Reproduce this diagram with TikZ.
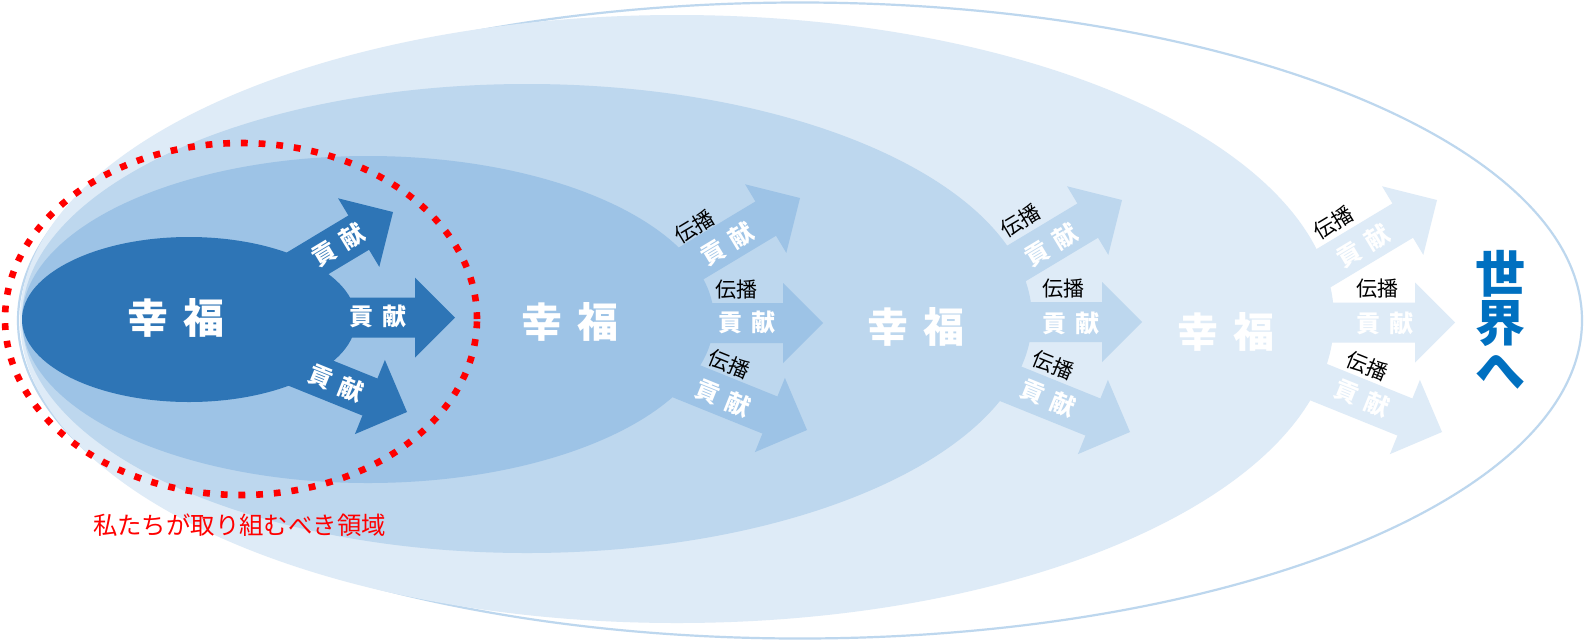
\documentclass[tikz,border=0pt]{standalone}
\usepackage{fontspec}
\newfontfamily\jp{Noto Sans CJK JP}
\definecolor{cE}{HTML}{2E75B6}
\definecolor{cD}{HTML}{9DC3E6}
\definecolor{cC}{HTML}{BDD7EE}
\definecolor{cB}{HTML}{DEEBF7}
\definecolor{cLine}{HTML}{BDD7EE}
\definecolor{cWorld}{HTML}{0070C0}
\definecolor{cRed}{HTML}{FF0000}
% block arrow: colour, tip x, tip y (pixels, downward), angle
\newcommand\blockarrow[4]{\fill[#1,shift={(#2,-#3)},rotate=#4] (0,0) -- (-40,40) -- (-40,20) -- (-170,20) -- (-170,-20) -- (-40,-20) -- (-40,-40) -- cycle;}
\tikzset{
  kou/.style={text=white, font=\jp\bfseries\fontsize{24}{24}\selectfont, inner sep=0pt},
  den/.style={text=black, font=\jp\fontsize{21}{21}\selectfont, inner sep=0pt},
  hap/.style={text=white, font=\jp\bfseries\fontsize{41}{41}\selectfont, inner sep=0pt},
  world/.style={text=cWorld, font=\jp\bfseries\fontsize{50}{48.5}\selectfont, inner sep=0pt, align=center},
  area/.style={text=cRed, font=\jp\fontsize{24.4}{24.4}\selectfont, inner sep=0pt},
  dotring/.style={draw=cRed, line width=6.6pt, dash pattern=on 6.8pt off 10.9pt},
}
\begin{document}
\begin{tikzpicture}[x=1pt,y=1pt]
\useasboundingbox (0,0) rectangle (1586,-641);
\fill[white] (0,0) rectangle (1586,-641);
% outer outline
\filldraw[fill=white, draw=cLine, line width=2.2pt] (800,-320.5) ellipse [x radius=782, y radius=318];
% region B and its arrows
\fill[cB] (677,-319) ellipse [x radius=657, y radius=304];
\blockarrow{cB}{1437}{200}{31}
\blockarrow{cB}{1455}{322.5}{0}
\blockarrow{cB}{1442}{432}{-22}
% region C and its arrows
\fill[cC] (527,-318.5) ellipse [x radius=505, y radius=234.5];
\blockarrow{cC}{1122}{200}{31}
\blockarrow{cC}{1142}{322}{0}
\blockarrow{cC}{1130}{432}{-22}
% region D and its arrows
\fill[cD] (368,-319.5) ellipse [x radius=346, y radius=163.5];
\blockarrow{cD}{800}{198}{31}
\blockarrow{cD}{823}{323}{0}
\blockarrow{cD}{807}{430}{-22}
% region E and its arrows
\fill[cE] (189,-319.5) ellipse [x radius=167, y radius=82.5];
\blockarrow{cE}{393}{212}{31}
\blockarrow{cE}{455}{317.5}{0}
\blockarrow{cE}{407}{412}{-22}
% red dotted ring
\draw[dotring] (241,-319) ellipse [x radius=236, y radius=176];
% happiness labels
\node[hap] (h1) at (176,-318) {幸\hspace{14.5pt}福};
\node[hap] (h2) at (570,-322) {幸\hspace{14.5pt}福};
\node[hap] (h3) at (916,-327) {幸\hspace{14.5pt}福};
\node[hap] (h4) at (1226,-332) {幸\hspace{14.5pt}福};
% group 1
\node[kou, rotate=31] (k1u) at (338,-245) {貢\hspace{9pt}献};
\node[kou] (k1m) at (378,-316) {貢\hspace{9pt}献};
\node[kou, rotate=-22] (k1l) at (336,-383) {貢\hspace{9pt}献};
% group 2
\node[den, rotate=31] (d2u) at (694,-227) {伝播};
\node[kou, rotate=31] (k2u) at (727,-244) {貢\hspace{9pt}献};
\node[den] (d2m) at (736,-290) {伝播};
\node[kou] (k2m) at (747,-322) {貢\hspace{9pt}献};
\node[den, rotate=-22] (d2l) at (729,-364) {伝播};
\node[kou, rotate=-22] (k2l) at (723,-398) {貢\hspace{9pt}献};
% group 3
\node[den, rotate=31] (d3u) at (1020,-221) {伝播};
\node[kou, rotate=31] (k3u) at (1051,-245) {貢\hspace{9pt}献};
\node[den] (d3m) at (1063,-289) {伝播};
\node[kou] (k3m) at (1071,-323) {貢\hspace{9pt}献};
\node[den, rotate=-22] (d3l) at (1053,-365) {伝播};
\node[kou, rotate=-22] (k3l) at (1048,-398) {貢\hspace{9pt}献};
% group 4
\node[den, rotate=31] (d4u) at (1333,-223) {伝播};
\node[kou, rotate=31] (k4u) at (1363,-246) {貢\hspace{9pt}献};
\node[den] (d4m) at (1377,-289) {伝播};
\node[kou] (k4m) at (1385,-323) {貢\hspace{9pt}献};
\node[den, rotate=-22] (d4l) at (1367,-366) {伝播};
\node[kou, rotate=-22] (k4l) at (1362,-398) {貢\hspace{9pt}献};
% to the world
\node[world] (w) at (1500,-320) {世\\界\\へ};
% area caption
\node[area] (cap) at (239.5,-525) {私たちが取り組むべき領域};
\end{tikzpicture}
\end{document}
